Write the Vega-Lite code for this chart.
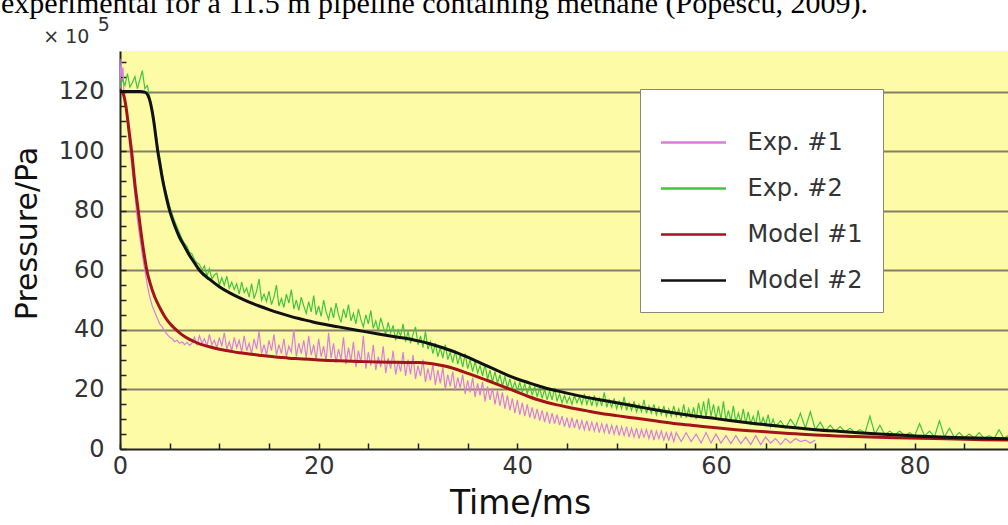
{
  "$schema": "https://vega.github.io/schema/vega-lite/v6.json",
  "width": 888,
  "height": 398,
  "autosize": {"type": "none"},
  "padding": {"left": 120, "top": 51, "right": 0, "bottom": 76},
  "background": "white",
  "title": {
    "text": "experimental for a 11.5 m pipeline containing methane (Popescu, 2009).",
    "subtitle": ["\u200b\u00a0\u00a0\u00a0\u00a0\u00a0\u00a0\u00a0\u00a0\u00a0\u00a0\u00a0\u00a0\u00a0\u00a0\u00a0\u00a05", "\u200b\u00a0\u00a0\u00a0\u00a0\u00a0\u00a0\u00a0× 10"],
    "font": "Liberation Serif",
    "fontSize": 30,
    "fontWeight": "normal",
    "color": "#000000",
    "subtitleFont": "DejaVu Sans",
    "subtitleFontSize": 19,
    "subtitleLineHeight": 12,
    "subtitleColor": "#333333",
    "subtitlePadding": -3,
    "anchor": "start",
    "frame": "group",
    "dx": -119,
    "offset": 3
  },
  "config": {
    "view": {"fill": "#FEFBA6", "stroke": null},
    "font": "DejaVu Sans"
  },
  "datasets": {
    "all": [
      {"s":"Exp. #1","t":0,"p":122},{"s":"Exp. #1","t":0.1,"p":131},{"s":"Exp. #1","t":0.2,"p":125},{"s":"Exp. #1","t":0.3,"p":128},{"s":"Exp. #1","t":0.4,"p":119},{"s":"Exp. #1","t":0.5,"p":117},
      {"s":"Exp. #1","t":0.75,"p":110},{"s":"Exp. #1","t":1,"p":101},{"s":"Exp. #1","t":1.25,"p":93},{"s":"Exp. #1","t":1.5,"p":85},{"s":"Exp. #1","t":1.75,"p":77},{"s":"Exp. #1","t":2,"p":71},
      {"s":"Exp. #1","t":2.25,"p":65},{"s":"Exp. #1","t":2.5,"p":60},{"s":"Exp. #1","t":2.75,"p":55},{"s":"Exp. #1","t":3,"p":51},{"s":"Exp. #1","t":3.25,"p":48},{"s":"Exp. #1","t":3.5,"p":46},
      {"s":"Exp. #1","t":3.75,"p":44},{"s":"Exp. #1","t":4,"p":42},{"s":"Exp. #1","t":4.25,"p":41},{"s":"Exp. #1","t":4.5,"p":39.5},{"s":"Exp. #1","t":4.75,"p":38.5},{"s":"Exp. #1","t":5,"p":37.5},
      {"s":"Exp. #1","t":5.25,"p":37},{"s":"Exp. #1","t":5.5,"p":36},{"s":"Exp. #1","t":5.75,"p":36.5},{"s":"Exp. #1","t":6,"p":35.5},{"s":"Exp. #1","t":6.25,"p":36},{"s":"Exp. #1","t":6.5,"p":35},
      {"s":"Exp. #1","t":6.75,"p":35.8},{"s":"Exp. #1","t":7,"p":34.8},{"s":"Exp. #1","t":7.25,"p":35.5},{"s":"Exp. #1","t":7.5,"p":37.5},{"s":"Exp. #1","t":7.75,"p":35},{"s":"Exp. #1","t":8,"p":38},
      {"s":"Exp. #1","t":8.25,"p":35.5},{"s":"Exp. #1","t":8.5,"p":37},{"s":"Exp. #1","t":8.75,"p":34.5},{"s":"Exp. #1","t":9,"p":38.5},{"s":"Exp. #1","t":9.25,"p":35},{"s":"Exp. #1","t":9.5,"p":36.5},
      {"s":"Exp. #1","t":9.75,"p":34},{"s":"Exp. #1","t":10,"p":37.5},{"s":"Exp. #1","t":10.25,"p":34.5},{"s":"Exp. #1","t":10.5,"p":39},{"s":"Exp. #1","t":10.75,"p":33.5},{"s":"Exp. #1","t":11,"p":36},
      {"s":"Exp. #1","t":11.25,"p":33},{"s":"Exp. #1","t":11.5,"p":37.5},{"s":"Exp. #1","t":11.75,"p":34},{"s":"Exp. #1","t":12,"p":36.5},{"s":"Exp. #1","t":12.25,"p":32.5},{"s":"Exp. #1","t":12.5,"p":38},
      {"s":"Exp. #1","t":12.75,"p":33},{"s":"Exp. #1","t":13,"p":35.5},{"s":"Exp. #1","t":13.25,"p":32},{"s":"Exp. #1","t":13.5,"p":37},{"s":"Exp. #1","t":13.75,"p":33.5},{"s":"Exp. #1","t":14,"p":39.5},
      {"s":"Exp. #1","t":14.25,"p":32},{"s":"Exp. #1","t":14.5,"p":35},{"s":"Exp. #1","t":14.75,"p":31.5},{"s":"Exp. #1","t":15,"p":36.5},{"s":"Exp. #1","t":15.25,"p":33},{"s":"Exp. #1","t":15.5,"p":38.5},
      {"s":"Exp. #1","t":15.75,"p":31.5},{"s":"Exp. #1","t":16,"p":35},{"s":"Exp. #1","t":16.25,"p":32},{"s":"Exp. #1","t":16.5,"p":37},{"s":"Exp. #1","t":16.75,"p":31},{"s":"Exp. #1","t":17,"p":34.5},
      {"s":"Exp. #1","t":17.25,"p":32.5},{"s":"Exp. #1","t":17.5,"p":40},{"s":"Exp. #1","t":17.75,"p":31},{"s":"Exp. #1","t":18,"p":35.5},{"s":"Exp. #1","t":18.25,"p":32},{"s":"Exp. #1","t":18.5,"p":36.5},
      {"s":"Exp. #1","t":18.75,"p":30.5},{"s":"Exp. #1","t":19,"p":38},{"s":"Exp. #1","t":19.25,"p":31.5},{"s":"Exp. #1","t":19.5,"p":35},{"s":"Exp. #1","t":19.75,"p":30},{"s":"Exp. #1","t":20,"p":37},
      {"s":"Exp. #1","t":20.25,"p":31},{"s":"Exp. #1","t":20.5,"p":34.5},{"s":"Exp. #1","t":20.75,"p":29.5},{"s":"Exp. #1","t":21,"p":39},{"s":"Exp. #1","t":21.25,"p":30.5},{"s":"Exp. #1","t":21.5,"p":35.5},
      {"s":"Exp. #1","t":21.75,"p":29},{"s":"Exp. #1","t":22,"p":33.5},{"s":"Exp. #1","t":22.25,"p":30},{"s":"Exp. #1","t":22.5,"p":37.5},{"s":"Exp. #1","t":22.75,"p":28.5},{"s":"Exp. #1","t":23,"p":34},
      {"s":"Exp. #1","t":23.25,"p":29.5},{"s":"Exp. #1","t":23.5,"p":36},{"s":"Exp. #1","t":23.75,"p":27.5},{"s":"Exp. #1","t":24,"p":33},{"s":"Exp. #1","t":24.25,"p":29},{"s":"Exp. #1","t":24.5,"p":38},
      {"s":"Exp. #1","t":24.75,"p":27},{"s":"Exp. #1","t":25,"p":32.5},{"s":"Exp. #1","t":25.25,"p":28},{"s":"Exp. #1","t":25.5,"p":35},{"s":"Exp. #1","t":25.75,"p":26.5},{"s":"Exp. #1","t":26,"p":31},
      {"s":"Exp. #1","t":26.25,"p":27.5},{"s":"Exp. #1","t":26.5,"p":34.5},{"s":"Exp. #1","t":26.75,"p":25.5},{"s":"Exp. #1","t":27,"p":30.5},{"s":"Exp. #1","t":27.25,"p":27},{"s":"Exp. #1","t":27.5,"p":33},
      {"s":"Exp. #1","t":27.75,"p":25},{"s":"Exp. #1","t":28,"p":29.5},{"s":"Exp. #1","t":28.25,"p":26},{"s":"Exp. #1","t":28.5,"p":32.5},{"s":"Exp. #1","t":28.75,"p":24.5},{"s":"Exp. #1","t":29,"p":30},
      {"s":"Exp. #1","t":29.25,"p":25},{"s":"Exp. #1","t":29.5,"p":31.5},{"s":"Exp. #1","t":29.75,"p":23.5},{"s":"Exp. #1","t":30,"p":28},{"s":"Exp. #1","t":30.25,"p":24.5},{"s":"Exp. #1","t":30.5,"p":30},
      {"s":"Exp. #1","t":30.75,"p":22.5},{"s":"Exp. #1","t":31,"p":27},{"s":"Exp. #1","t":31.25,"p":23},{"s":"Exp. #1","t":31.5,"p":28.5},{"s":"Exp. #1","t":31.75,"p":21.5},{"s":"Exp. #1","t":32,"p":26.5},
      {"s":"Exp. #1","t":32.25,"p":22},{"s":"Exp. #1","t":32.5,"p":27.5},{"s":"Exp. #1","t":32.75,"p":20},{"s":"Exp. #1","t":33,"p":25},{"s":"Exp. #1","t":33.25,"p":21},{"s":"Exp. #1","t":33.5,"p":26},
      {"s":"Exp. #1","t":33.75,"p":19.5},{"s":"Exp. #1","t":34,"p":24},{"s":"Exp. #1","t":34.25,"p":20.5},{"s":"Exp. #1","t":34.5,"p":25},{"s":"Exp. #1","t":34.75,"p":18.5},{"s":"Exp. #1","t":35,"p":23},
      {"s":"Exp. #1","t":35.25,"p":19},{"s":"Exp. #1","t":35.5,"p":24},{"s":"Exp. #1","t":35.75,"p":17.5},{"s":"Exp. #1","t":36,"p":22},{"s":"Exp. #1","t":36.25,"p":18},{"s":"Exp. #1","t":36.5,"p":22.5},
      {"s":"Exp. #1","t":36.75,"p":16},{"s":"Exp. #1","t":37,"p":21},{"s":"Exp. #1","t":37.25,"p":16.5},{"s":"Exp. #1","t":37.5,"p":20.5},{"s":"Exp. #1","t":37.75,"p":15},{"s":"Exp. #1","t":38,"p":19.5},
      {"s":"Exp. #1","t":38.25,"p":14.5},{"s":"Exp. #1","t":38.5,"p":19},{"s":"Exp. #1","t":38.75,"p":13.5},{"s":"Exp. #1","t":39,"p":18},{"s":"Exp. #1","t":39.25,"p":13},{"s":"Exp. #1","t":39.5,"p":17},
      {"s":"Exp. #1","t":39.75,"p":12},{"s":"Exp. #1","t":40,"p":16.5},{"s":"Exp. #1","t":40.25,"p":11.5},{"s":"Exp. #1","t":40.5,"p":15.5},{"s":"Exp. #1","t":40.75,"p":11},{"s":"Exp. #1","t":41,"p":15},
      {"s":"Exp. #1","t":41.25,"p":10.5},{"s":"Exp. #1","t":41.5,"p":14},{"s":"Exp. #1","t":41.75,"p":10},{"s":"Exp. #1","t":42,"p":13.5},{"s":"Exp. #1","t":42.25,"p":9.5},{"s":"Exp. #1","t":42.5,"p":13},
      {"s":"Exp. #1","t":42.75,"p":9},{"s":"Exp. #1","t":43,"p":12.5},{"s":"Exp. #1","t":43.25,"p":8.5},{"s":"Exp. #1","t":43.5,"p":12},{"s":"Exp. #1","t":43.75,"p":8.5},{"s":"Exp. #1","t":44,"p":11.5},
      {"s":"Exp. #1","t":44.25,"p":8},{"s":"Exp. #1","t":44.5,"p":11},{"s":"Exp. #1","t":44.75,"p":7.5},{"s":"Exp. #1","t":45,"p":10.5},{"s":"Exp. #1","t":45.25,"p":7},{"s":"Exp. #1","t":45.5,"p":10.5},
      {"s":"Exp. #1","t":45.75,"p":7},{"s":"Exp. #1","t":46,"p":10},{"s":"Exp. #1","t":46.25,"p":6.5},{"s":"Exp. #1","t":46.5,"p":9.5},{"s":"Exp. #1","t":46.75,"p":6.5},{"s":"Exp. #1","t":47,"p":9.5},
      {"s":"Exp. #1","t":47.25,"p":6},{"s":"Exp. #1","t":47.5,"p":9},{"s":"Exp. #1","t":47.75,"p":6},{"s":"Exp. #1","t":48,"p":9},{"s":"Exp. #1","t":48.25,"p":5.5},{"s":"Exp. #1","t":48.5,"p":8.5},
      {"s":"Exp. #1","t":48.75,"p":5.5},{"s":"Exp. #1","t":49,"p":8.5},{"s":"Exp. #1","t":49.25,"p":5},{"s":"Exp. #1","t":49.5,"p":8},{"s":"Exp. #1","t":49.75,"p":5},{"s":"Exp. #1","t":50,"p":8},
      {"s":"Exp. #1","t":50.25,"p":4.5},{"s":"Exp. #1","t":50.5,"p":7.5},{"s":"Exp. #1","t":50.75,"p":4.5},{"s":"Exp. #1","t":51,"p":7.5},{"s":"Exp. #1","t":51.25,"p":4},{"s":"Exp. #1","t":51.5,"p":7},
      {"s":"Exp. #1","t":51.75,"p":4},{"s":"Exp. #1","t":52,"p":7},{"s":"Exp. #1","t":52.25,"p":3.5},{"s":"Exp. #1","t":52.5,"p":6.5},{"s":"Exp. #1","t":52.75,"p":4},{"s":"Exp. #1","t":53,"p":6.5},
      {"s":"Exp. #1","t":53.25,"p":3.5},{"s":"Exp. #1","t":53.5,"p":6.5},{"s":"Exp. #1","t":53.75,"p":3},{"s":"Exp. #1","t":54,"p":6},{"s":"Exp. #1","t":54.25,"p":3.5},{"s":"Exp. #1","t":54.5,"p":6},
      {"s":"Exp. #1","t":54.75,"p":3},{"s":"Exp. #1","t":55,"p":5.5},{"s":"Exp. #1","t":55.25,"p":3},{"s":"Exp. #1","t":55.5,"p":5.5},{"s":"Exp. #1","t":55.75,"p":2.5},{"s":"Exp. #1","t":56,"p":5.5},
      {"s":"Exp. #1","t":56.5,"p":2.5},{"s":"Exp. #1","t":57,"p":5.5},{"s":"Exp. #1","t":57.5,"p":2.5},{"s":"Exp. #1","t":58,"p":5},{"s":"Exp. #1","t":58.5,"p":2},{"s":"Exp. #1","t":59,"p":5.5},
      {"s":"Exp. #1","t":59.5,"p":2},{"s":"Exp. #1","t":60,"p":5},{"s":"Exp. #1","t":60.5,"p":2},{"s":"Exp. #1","t":61,"p":4.5},{"s":"Exp. #1","t":61.5,"p":1.8},{"s":"Exp. #1","t":62,"p":4.5},
      {"s":"Exp. #1","t":62.5,"p":1.8},{"s":"Exp. #1","t":63,"p":4},{"s":"Exp. #1","t":63.5,"p":1.5},{"s":"Exp. #1","t":64,"p":4.5},{"s":"Exp. #1","t":64.5,"p":1.5},{"s":"Exp. #1","t":65,"p":4},
      {"s":"Exp. #1","t":65.5,"p":2},{"s":"Exp. #1","t":66,"p":3.5},{"s":"Exp. #1","t":66.5,"p":1.5},{"s":"Exp. #1","t":67,"p":3.5},{"s":"Exp. #1","t":67.5,"p":2},{"s":"Exp. #1","t":68,"p":3.5},
      {"s":"Exp. #1","t":68.5,"p":2.5},{"s":"Exp. #1","t":69,"p":3},{"s":"Exp. #1","t":69.5,"p":2},{"s":"Exp. #1","t":70,"p":3},
      {"s":"Exp. #2","t":0,"p":121},{"s":"Exp. #2","t":0.25,"p":124},{"s":"Exp. #2","t":0.5,"p":122},{"s":"Exp. #2","t":0.75,"p":126},{"s":"Exp. #2","t":1,"p":121.5},{"s":"Exp. #2","t":1.25,"p":123},
      {"s":"Exp. #2","t":1.5,"p":125},{"s":"Exp. #2","t":1.75,"p":121},{"s":"Exp. #2","t":2,"p":124},{"s":"Exp. #2","t":2.25,"p":127},{"s":"Exp. #2","t":2.5,"p":121},{"s":"Exp. #2","t":2.75,"p":122},
      {"s":"Exp. #2","t":3,"p":118},{"s":"Exp. #2","t":3.25,"p":114},{"s":"Exp. #2","t":3.5,"p":109},{"s":"Exp. #2","t":3.75,"p":103},{"s":"Exp. #2","t":4,"p":98},{"s":"Exp. #2","t":4.25,"p":93},
      {"s":"Exp. #2","t":4.5,"p":88},{"s":"Exp. #2","t":4.75,"p":85},{"s":"Exp. #2","t":5,"p":81.5},{"s":"Exp. #2","t":5.25,"p":79},{"s":"Exp. #2","t":5.5,"p":76.5},{"s":"Exp. #2","t":5.75,"p":74.5},
      {"s":"Exp. #2","t":6,"p":72.5},{"s":"Exp. #2","t":6.25,"p":70.5},{"s":"Exp. #2","t":6.5,"p":69},{"s":"Exp. #2","t":6.75,"p":68},{"s":"Exp. #2","t":7,"p":66},{"s":"Exp. #2","t":7.25,"p":65.5},
      {"s":"Exp. #2","t":7.5,"p":63.5},{"s":"Exp. #2","t":7.75,"p":62.5},{"s":"Exp. #2","t":8,"p":62},{"s":"Exp. #2","t":8.25,"p":60},{"s":"Exp. #2","t":8.5,"p":61.5},{"s":"Exp. #2","t":8.75,"p":58},
      {"s":"Exp. #2","t":9,"p":60.5},{"s":"Exp. #2","t":9.25,"p":57},{"s":"Exp. #2","t":9.5,"p":58.5},{"s":"Exp. #2","t":9.75,"p":59},{"s":"Exp. #2","t":10,"p":55},{"s":"Exp. #2","t":10.25,"p":57.5},
      {"s":"Exp. #2","t":10.5,"p":55},{"s":"Exp. #2","t":10.75,"p":58},{"s":"Exp. #2","t":11,"p":54},{"s":"Exp. #2","t":11.25,"p":56},{"s":"Exp. #2","t":11.5,"p":53.5},{"s":"Exp. #2","t":11.75,"p":55.5},
      {"s":"Exp. #2","t":12,"p":52},{"s":"Exp. #2","t":12.25,"p":56},{"s":"Exp. #2","t":12.5,"p":52.5},{"s":"Exp. #2","t":12.75,"p":54},{"s":"Exp. #2","t":13,"p":51},{"s":"Exp. #2","t":13.25,"p":55.5},
      {"s":"Exp. #2","t":13.5,"p":50.5},{"s":"Exp. #2","t":13.75,"p":53},{"s":"Exp. #2","t":14,"p":57},{"s":"Exp. #2","t":14.25,"p":50},{"s":"Exp. #2","t":14.5,"p":52},{"s":"Exp. #2","t":14.75,"p":49.5},
      {"s":"Exp. #2","t":15,"p":53},{"s":"Exp. #2","t":15.25,"p":48.5},{"s":"Exp. #2","t":15.5,"p":51},{"s":"Exp. #2","t":15.75,"p":55},{"s":"Exp. #2","t":16,"p":48},{"s":"Exp. #2","t":16.25,"p":50.5},
      {"s":"Exp. #2","t":16.5,"p":47.5},{"s":"Exp. #2","t":16.75,"p":52},{"s":"Exp. #2","t":17,"p":49},{"s":"Exp. #2","t":17.25,"p":53.5},{"s":"Exp. #2","t":17.5,"p":47},{"s":"Exp. #2","t":17.75,"p":50},
      {"s":"Exp. #2","t":18,"p":46.5},{"s":"Exp. #2","t":18.25,"p":51},{"s":"Exp. #2","t":18.5,"p":48},{"s":"Exp. #2","t":18.75,"p":45.5},{"s":"Exp. #2","t":19,"p":49.5},{"s":"Exp. #2","t":19.25,"p":46},
      {"s":"Exp. #2","t":19.5,"p":51.5},{"s":"Exp. #2","t":19.75,"p":45},{"s":"Exp. #2","t":20,"p":48},{"s":"Exp. #2","t":20.25,"p":44.5},{"s":"Exp. #2","t":20.5,"p":50},{"s":"Exp. #2","t":20.75,"p":46},
      {"s":"Exp. #2","t":21,"p":43.5},{"s":"Exp. #2","t":21.25,"p":47.5},{"s":"Exp. #2","t":21.5,"p":44},{"s":"Exp. #2","t":21.75,"p":49},{"s":"Exp. #2","t":22,"p":45},{"s":"Exp. #2","t":22.25,"p":42.5},
      {"s":"Exp. #2","t":22.5,"p":47},{"s":"Exp. #2","t":22.75,"p":44},{"s":"Exp. #2","t":23,"p":48.5},{"s":"Exp. #2","t":23.25,"p":43},{"s":"Exp. #2","t":23.5,"p":45.5},{"s":"Exp. #2","t":23.75,"p":42},
      {"s":"Exp. #2","t":24,"p":47},{"s":"Exp. #2","t":24.25,"p":43.5},{"s":"Exp. #2","t":24.5,"p":41},{"s":"Exp. #2","t":24.75,"p":45},{"s":"Exp. #2","t":25,"p":42},{"s":"Exp. #2","t":25.25,"p":46.5},
      {"s":"Exp. #2","t":25.5,"p":40.5},{"s":"Exp. #2","t":25.75,"p":43},{"s":"Exp. #2","t":26,"p":39.5},{"s":"Exp. #2","t":26.25,"p":44},{"s":"Exp. #2","t":26.5,"p":41},{"s":"Exp. #2","t":26.75,"p":38.5},
      {"s":"Exp. #2","t":27,"p":42.5},{"s":"Exp. #2","t":27.25,"p":39},{"s":"Exp. #2","t":27.5,"p":41.5},{"s":"Exp. #2","t":27.75,"p":36.5},{"s":"Exp. #2","t":28,"p":40},{"s":"Exp. #2","t":28.25,"p":38},
      {"s":"Exp. #2","t":28.5,"p":42},{"s":"Exp. #2","t":28.75,"p":36},{"s":"Exp. #2","t":29,"p":39.5},{"s":"Exp. #2","t":29.25,"p":35.5},{"s":"Exp. #2","t":29.5,"p":38.5},{"s":"Exp. #2","t":29.75,"p":41},
      {"s":"Exp. #2","t":30,"p":35},{"s":"Exp. #2","t":30.25,"p":38},{"s":"Exp. #2","t":30.5,"p":34},{"s":"Exp. #2","t":30.75,"p":39.5},{"s":"Exp. #2","t":31,"p":33.5},{"s":"Exp. #2","t":31.25,"p":36},
      {"s":"Exp. #2","t":31.5,"p":32},{"s":"Exp. #2","t":31.75,"p":35.5},{"s":"Exp. #2","t":32,"p":31},{"s":"Exp. #2","t":32.25,"p":34},{"s":"Exp. #2","t":32.5,"p":30.5},{"s":"Exp. #2","t":32.75,"p":35},
      {"s":"Exp. #2","t":33,"p":30},{"s":"Exp. #2","t":33.25,"p":32.5},{"s":"Exp. #2","t":33.5,"p":29},{"s":"Exp. #2","t":33.75,"p":33},{"s":"Exp. #2","t":34,"p":28.5},{"s":"Exp. #2","t":34.25,"p":31.5},
      {"s":"Exp. #2","t":34.5,"p":27.5},{"s":"Exp. #2","t":34.75,"p":32},{"s":"Exp. #2","t":35,"p":27},{"s":"Exp. #2","t":35.25,"p":30},{"s":"Exp. #2","t":35.5,"p":26},{"s":"Exp. #2","t":35.75,"p":29.5},
      {"s":"Exp. #2","t":36,"p":25.5},{"s":"Exp. #2","t":36.25,"p":28},{"s":"Exp. #2","t":36.5,"p":24.5},{"s":"Exp. #2","t":36.75,"p":28.5},{"s":"Exp. #2","t":37,"p":23.5},{"s":"Exp. #2","t":37.25,"p":26.5},
      {"s":"Exp. #2","t":37.5,"p":22.5},{"s":"Exp. #2","t":37.75,"p":26},{"s":"Exp. #2","t":38,"p":22},{"s":"Exp. #2","t":38.25,"p":25},{"s":"Exp. #2","t":38.5,"p":21},{"s":"Exp. #2","t":38.75,"p":24.5},
      {"s":"Exp. #2","t":39,"p":20.5},{"s":"Exp. #2","t":39.25,"p":23.5},{"s":"Exp. #2","t":39.5,"p":20},{"s":"Exp. #2","t":39.75,"p":22.5},{"s":"Exp. #2","t":40,"p":19.5},{"s":"Exp. #2","t":40.25,"p":22.5},
      {"s":"Exp. #2","t":40.5,"p":19},{"s":"Exp. #2","t":40.75,"p":22},{"s":"Exp. #2","t":41,"p":18.5},{"s":"Exp. #2","t":41.25,"p":21.5},{"s":"Exp. #2","t":41.5,"p":18},{"s":"Exp. #2","t":41.75,"p":21},
      {"s":"Exp. #2","t":42,"p":17.5},{"s":"Exp. #2","t":42.25,"p":20.5},{"s":"Exp. #2","t":42.5,"p":17},{"s":"Exp. #2","t":42.75,"p":20},{"s":"Exp. #2","t":43,"p":16.5},{"s":"Exp. #2","t":43.25,"p":19.5},
      {"s":"Exp. #2","t":43.5,"p":16.5},{"s":"Exp. #2","t":43.75,"p":20.5},{"s":"Exp. #2","t":44,"p":16},{"s":"Exp. #2","t":44.25,"p":18.5},{"s":"Exp. #2","t":44.5,"p":15.5},{"s":"Exp. #2","t":44.75,"p":18},
      {"s":"Exp. #2","t":45,"p":15.5},{"s":"Exp. #2","t":45.25,"p":17.5},{"s":"Exp. #2","t":45.5,"p":15},{"s":"Exp. #2","t":45.75,"p":18},{"s":"Exp. #2","t":46,"p":15.5},{"s":"Exp. #2","t":46.25,"p":17.5},
      {"s":"Exp. #2","t":46.5,"p":15},{"s":"Exp. #2","t":46.75,"p":18.5},{"s":"Exp. #2","t":47,"p":15},{"s":"Exp. #2","t":47.25,"p":17.5},{"s":"Exp. #2","t":47.5,"p":14.5},{"s":"Exp. #2","t":47.75,"p":18},
      {"s":"Exp. #2","t":48,"p":14.5},{"s":"Exp. #2","t":48.25,"p":17},{"s":"Exp. #2","t":48.5,"p":14.5},{"s":"Exp. #2","t":48.75,"p":19},{"s":"Exp. #2","t":49,"p":14},{"s":"Exp. #2","t":49.25,"p":16.5},
      {"s":"Exp. #2","t":49.5,"p":14},{"s":"Exp. #2","t":49.75,"p":17},{"s":"Exp. #2","t":50,"p":13.5},{"s":"Exp. #2","t":50.25,"p":16},{"s":"Exp. #2","t":50.5,"p":13.5},{"s":"Exp. #2","t":50.75,"p":17.5},
      {"s":"Exp. #2","t":51,"p":13},{"s":"Exp. #2","t":51.25,"p":15.5},{"s":"Exp. #2","t":51.5,"p":13},{"s":"Exp. #2","t":51.75,"p":16},{"s":"Exp. #2","t":52,"p":12.5},{"s":"Exp. #2","t":52.25,"p":15},
      {"s":"Exp. #2","t":52.5,"p":12.5},{"s":"Exp. #2","t":52.75,"p":16.5},{"s":"Exp. #2","t":53,"p":12},{"s":"Exp. #2","t":53.25,"p":14.5},{"s":"Exp. #2","t":53.5,"p":12},{"s":"Exp. #2","t":53.75,"p":15},
      {"s":"Exp. #2","t":54,"p":11.5},{"s":"Exp. #2","t":54.25,"p":14},{"s":"Exp. #2","t":54.5,"p":11.5},{"s":"Exp. #2","t":54.75,"p":14.5},{"s":"Exp. #2","t":55,"p":11},{"s":"Exp. #2","t":55.25,"p":13.5},
      {"s":"Exp. #2","t":55.5,"p":11},{"s":"Exp. #2","t":55.75,"p":14.5},{"s":"Exp. #2","t":56,"p":11},{"s":"Exp. #2","t":56.25,"p":13.5},{"s":"Exp. #2","t":56.5,"p":10.5},{"s":"Exp. #2","t":56.75,"p":15},
      {"s":"Exp. #2","t":57,"p":10.5},{"s":"Exp. #2","t":57.25,"p":13.5},{"s":"Exp. #2","t":57.5,"p":10.5},{"s":"Exp. #2","t":57.75,"p":14},{"s":"Exp. #2","t":58,"p":10},{"s":"Exp. #2","t":58.25,"p":15.5},
      {"s":"Exp. #2","t":58.5,"p":11},{"s":"Exp. #2","t":58.75,"p":16},{"s":"Exp. #2","t":59,"p":10.5},{"s":"Exp. #2","t":59.25,"p":17},{"s":"Exp. #2","t":59.5,"p":11},{"s":"Exp. #2","t":59.75,"p":15},
      {"s":"Exp. #2","t":60,"p":10},{"s":"Exp. #2","t":60.25,"p":14.5},{"s":"Exp. #2","t":60.5,"p":10},{"s":"Exp. #2","t":60.75,"p":16},{"s":"Exp. #2","t":61,"p":9.5},{"s":"Exp. #2","t":61.25,"p":13},
      {"s":"Exp. #2","t":61.5,"p":9.5},{"s":"Exp. #2","t":61.75,"p":14.5},{"s":"Exp. #2","t":62,"p":9},{"s":"Exp. #2","t":62.25,"p":12},{"s":"Exp. #2","t":62.5,"p":9},{"s":"Exp. #2","t":62.75,"p":13.5},
      {"s":"Exp. #2","t":63,"p":8.5},{"s":"Exp. #2","t":63.25,"p":12.5},{"s":"Exp. #2","t":63.5,"p":8.5},{"s":"Exp. #2","t":63.75,"p":11},{"s":"Exp. #2","t":64,"p":8},{"s":"Exp. #2","t":64.25,"p":13},
      {"s":"Exp. #2","t":64.5,"p":8},{"s":"Exp. #2","t":64.75,"p":10.5},{"s":"Exp. #2","t":65,"p":8},{"s":"Exp. #2","t":65.25,"p":11.5},{"s":"Exp. #2","t":65.5,"p":7.5},{"s":"Exp. #2","t":65.75,"p":10},
      {"s":"Exp. #2","t":66,"p":7.5},{"s":"Exp. #2","t":66.5,"p":9.5},{"s":"Exp. #2","t":67,"p":7},{"s":"Exp. #2","t":67.5,"p":10},{"s":"Exp. #2","t":68,"p":7.5},{"s":"Exp. #2","t":68.5,"p":12},
      {"s":"Exp. #2","t":69,"p":7},{"s":"Exp. #2","t":69.5,"p":12.5},{"s":"Exp. #2","t":70,"p":6.5},{"s":"Exp. #2","t":70.5,"p":9},{"s":"Exp. #2","t":71,"p":6},{"s":"Exp. #2","t":71.5,"p":8},
      {"s":"Exp. #2","t":72,"p":6},{"s":"Exp. #2","t":72.5,"p":7.5},{"s":"Exp. #2","t":73,"p":5.8},{"s":"Exp. #2","t":73.5,"p":7},{"s":"Exp. #2","t":74,"p":5.5},{"s":"Exp. #2","t":74.5,"p":6.5},
      {"s":"Exp. #2","t":75,"p":5.3},{"s":"Exp. #2","t":75.5,"p":11},{"s":"Exp. #2","t":76,"p":5},{"s":"Exp. #2","t":76.5,"p":8},{"s":"Exp. #2","t":77,"p":4.8},{"s":"Exp. #2","t":77.5,"p":6},
      {"s":"Exp. #2","t":78,"p":4.7},{"s":"Exp. #2","t":78.5,"p":6},{"s":"Exp. #2","t":79,"p":4.5},{"s":"Exp. #2","t":79.5,"p":5.5},{"s":"Exp. #2","t":80,"p":4.4},{"s":"Exp. #2","t":80.5,"p":8.5},
      {"s":"Exp. #2","t":81,"p":4.3},{"s":"Exp. #2","t":81.5,"p":6},{"s":"Exp. #2","t":82,"p":4.1},{"s":"Exp. #2","t":82.5,"p":9.5},{"s":"Exp. #2","t":83,"p":4},{"s":"Exp. #2","t":83.5,"p":7},
      {"s":"Exp. #2","t":84,"p":3.9},{"s":"Exp. #2","t":84.5,"p":5.5},{"s":"Exp. #2","t":85,"p":3.8},{"s":"Exp. #2","t":85.5,"p":5},{"s":"Exp. #2","t":86,"p":3.7},{"s":"Exp. #2","t":86.5,"p":5.5},
      {"s":"Exp. #2","t":87,"p":3.6},{"s":"Exp. #2","t":87.5,"p":4.5},{"s":"Exp. #2","t":88,"p":3.5},{"s":"Exp. #2","t":88.5,"p":6.5},{"s":"Exp. #2","t":89,"p":3.5},{"s":"Exp. #2","t":89.4,"p":4.5},
      {"s":"Model #1","t":0,"p":120.5},{"s":"Model #1","t":0.3,"p":119.5},{"s":"Model #1","t":0.6,"p":115},{"s":"Model #1","t":0.9,"p":107},{"s":"Model #1","t":1.2,"p":99},{"s":"Model #1","t":1.5,"p":89},
      {"s":"Model #1","t":1.8,"p":81},{"s":"Model #1","t":2.1,"p":73},{"s":"Model #1","t":2.4,"p":66},{"s":"Model #1","t":2.7,"p":60},{"s":"Model #1","t":3,"p":56},{"s":"Model #1","t":3.5,"p":51},
      {"s":"Model #1","t":4,"p":47.5},{"s":"Model #1","t":4.5,"p":44.5},{"s":"Model #1","t":5,"p":42.2},{"s":"Model #1","t":5.5,"p":40.5},{"s":"Model #1","t":6,"p":39},{"s":"Model #1","t":6.5,"p":37.8},
      {"s":"Model #1","t":7,"p":36.8},{"s":"Model #1","t":7.5,"p":36},{"s":"Model #1","t":8,"p":35.3},{"s":"Model #1","t":8.5,"p":34.8},{"s":"Model #1","t":9,"p":34.3},{"s":"Model #1","t":10,"p":33.5},
      {"s":"Model #1","t":11,"p":32.9},{"s":"Model #1","t":12,"p":32.3},{"s":"Model #1","t":13,"p":31.9},{"s":"Model #1","t":14,"p":31.5},{"s":"Model #1","t":15,"p":31.1},{"s":"Model #1","t":16,"p":30.8},
      {"s":"Model #1","t":17,"p":30.5},{"s":"Model #1","t":18,"p":30.3},{"s":"Model #1","t":19,"p":30.1},{"s":"Model #1","t":20,"p":29.9},{"s":"Model #1","t":22,"p":29.6},{"s":"Model #1","t":24,"p":29.4},
      {"s":"Model #1","t":26,"p":29.2},{"s":"Model #1","t":28,"p":29.1},{"s":"Model #1","t":30,"p":29},{"s":"Model #1","t":31,"p":28.8},{"s":"Model #1","t":32,"p":28.3},{"s":"Model #1","t":33,"p":27.6},
      {"s":"Model #1","t":34,"p":26.6},{"s":"Model #1","t":35,"p":25.4},{"s":"Model #1","t":36,"p":24.2},{"s":"Model #1","t":37,"p":23},{"s":"Model #1","t":38,"p":21.7},{"s":"Model #1","t":39,"p":20.4},
      {"s":"Model #1","t":40,"p":19.1},{"s":"Model #1","t":41,"p":17.8},{"s":"Model #1","t":42,"p":16.6},{"s":"Model #1","t":43,"p":15.6},{"s":"Model #1","t":44,"p":14.8},{"s":"Model #1","t":45,"p":14.1},
      {"s":"Model #1","t":46,"p":13.4},{"s":"Model #1","t":47,"p":12.8},{"s":"Model #1","t":48,"p":12.2},{"s":"Model #1","t":50,"p":11.2},{"s":"Model #1","t":52,"p":10.3},{"s":"Model #1","t":54,"p":9.4},
      {"s":"Model #1","t":56,"p":8.5},{"s":"Model #1","t":58,"p":7.8},{"s":"Model #1","t":60,"p":7.1},{"s":"Model #1","t":62,"p":6.5},{"s":"Model #1","t":64,"p":6},{"s":"Model #1","t":66,"p":5.5},
      {"s":"Model #1","t":68,"p":5.1},{"s":"Model #1","t":70,"p":4.7},{"s":"Model #1","t":74,"p":4.2},{"s":"Model #1","t":78,"p":3.8},{"s":"Model #1","t":82,"p":3.5},{"s":"Model #1","t":86,"p":3.2},
      {"s":"Model #1","t":89.4,"p":3},
      {"s":"Model #2","t":0,"p":120},{"s":"Model #2","t":1,"p":120},{"s":"Model #2","t":2,"p":120},{"s":"Model #2","t":2.5,"p":119.8},{"s":"Model #2","t":2.8,"p":118.8},{"s":"Model #2","t":3,"p":117},
      {"s":"Model #2","t":3.2,"p":114},{"s":"Model #2","t":3.4,"p":110},{"s":"Model #2","t":3.6,"p":105},{"s":"Model #2","t":3.8,"p":100},{"s":"Model #2","t":4,"p":96},{"s":"Model #2","t":4.2,"p":92},
      {"s":"Model #2","t":4.5,"p":87},{"s":"Model #2","t":5,"p":80},{"s":"Model #2","t":5.5,"p":75},{"s":"Model #2","t":6,"p":71},{"s":"Model #2","t":6.5,"p":68},{"s":"Model #2","t":7,"p":65},
      {"s":"Model #2","t":7.5,"p":62.5},{"s":"Model #2","t":8,"p":60},{"s":"Model #2","t":9,"p":57},{"s":"Model #2","t":10,"p":54.5},{"s":"Model #2","t":11,"p":52.5},{"s":"Model #2","t":12,"p":50.8},
      {"s":"Model #2","t":13,"p":49.3},{"s":"Model #2","t":14,"p":48},{"s":"Model #2","t":15,"p":46.8},{"s":"Model #2","t":16,"p":45.7},{"s":"Model #2","t":17,"p":44.7},{"s":"Model #2","t":18,"p":43.8},
      {"s":"Model #2","t":19,"p":43},{"s":"Model #2","t":20,"p":42.2},{"s":"Model #2","t":22,"p":41},{"s":"Model #2","t":24,"p":39.8},{"s":"Model #2","t":26,"p":38.6},{"s":"Model #2","t":28,"p":37.5},
      {"s":"Model #2","t":29,"p":37},{"s":"Model #2","t":30,"p":36.3},{"s":"Model #2","t":31,"p":35.5},{"s":"Model #2","t":32,"p":34.5},{"s":"Model #2","t":33,"p":33.4},{"s":"Model #2","t":34,"p":32.2},
      {"s":"Model #2","t":35,"p":30.8},{"s":"Model #2","t":36,"p":29.3},{"s":"Model #2","t":37,"p":27.8},{"s":"Model #2","t":38,"p":26.3},{"s":"Model #2","t":39,"p":24.8},{"s":"Model #2","t":40,"p":23.5},
      {"s":"Model #2","t":41,"p":22.4},{"s":"Model #2","t":42,"p":21.3},{"s":"Model #2","t":43,"p":20.3},{"s":"Model #2","t":44,"p":19.5},{"s":"Model #2","t":46,"p":18},{"s":"Model #2","t":48,"p":16.7},
      {"s":"Model #2","t":50,"p":15.5},{"s":"Model #2","t":52,"p":14.3},{"s":"Model #2","t":54,"p":13.1},{"s":"Model #2","t":56,"p":12},{"s":"Model #2","t":58,"p":11},{"s":"Model #2","t":60,"p":10.2},
      {"s":"Model #2","t":62,"p":9.3},{"s":"Model #2","t":64,"p":8.5},{"s":"Model #2","t":66,"p":7.8},{"s":"Model #2","t":68,"p":7.1},{"s":"Model #2","t":70,"p":6.5},{"s":"Model #2","t":73,"p":5.8},
      {"s":"Model #2","t":76,"p":5.1},{"s":"Model #2","t":80,"p":4.4},{"s":"Model #2","t":84,"p":3.9},{"s":"Model #2","t":89.4,"p":3.4}
    ]
  },
  "data": {"name": "all"},
  "encoding": {
    "x": {
      "field": "t", "type": "quantitative",
      "scale": {"domain": [0, 89.4], "nice": false, "zero": false},
      "axis": {
        "title": "Time/ms",
        "values": [0,5,10,15,20,25,30,35,40,45,50,55,60,65,70,75,80,85],
        "labelExpr": "datum.value % 20 === 0 ? datum.label : ''",
        "labelOverlap": false,
        "labelFlush": false,
        "grid": false,
        "domainColor": "#222222",
        "domainWidth": 2,
        "tickColor": "#222222",
        "tickWidth": 1.5,
        "tickSize": -6,
        "labelPadding": 11,
        "labelFont": "DejaVu Sans",
        "labelFontSize": 24,
        "labelColor": "#333333",
        "titleFont": "DejaVu Sans",
        "titleFontSize": 33,
        "titleFontWeight": "normal",
        "titleColor": "#111111",
        "titleBaseline": "top",
        "titleX": 400,
        "titleY": 38
      }
    },
    "y": {
      "field": "p", "type": "quantitative",
      "scale": {"domain": [0, 133.6], "nice": false, "zero": false},
      "axis": {
        "title": "Pressure/Pa",
        "values": [0,5,10,15,20,25,30,35,40,45,50,55,60,65,70,75,80,85,90,95,100,105,110,115,120,125,130],
        "labelExpr": "datum.value % 20 === 0 ? datum.label : ''",
        "labelOverlap": false,
        "labelFlush": false,
        "grid": true,
        "gridColor": "#857f68",
        "gridWidth": 2,
        "gridOpacity": {"condition": {"test": "datum.value % 20 === 0 && datum.value > 0", "value": 1}, "value": 0},
        "domainColor": "#222222",
        "domainWidth": 2,
        "tickColor": "#222222",
        "tickWidth": 1.5,
        "tickSize": -6,
        "labelPadding": 22,
        "labelFont": "DejaVu Sans",
        "labelFontSize": 24,
        "labelColor": "#333333",
        "titleFont": "DejaVu Sans",
        "titleFontSize": 30,
        "titleFontWeight": "normal",
        "titleColor": "#111111",
        "titleAngle": -90,
        "titleBaseline": "top",
        "titleAlign": "center",
        "titleX": -108,
        "titleY": 182
      }
    },
    "color": {
      "field": "s", "type": "nominal",
      "scale": {
        "domain": ["Exp. #1", "Exp. #2", "Model #1", "Model #2"],
        "range": ["#d97ddf", "#3fc63a", "#a3141a", "#111111"]
      },
      "legend": {
        "title": null,
        "orient": "none",
        "legendX": 520,
        "legendY": 38,
        "fillColor": "white",
        "strokeColor": "#8a8878",
        "padding": 19.5,
        "cornerRadius": 0,
        "symbolType": "stroke",
        "symbolSize": 4225,
        "symbolStrokeWidth": 2.5,
        "labelFont": "DejaVu Sans",
        "labelFontSize": 24,
        "labelColor": "#333333",
        "labelOffset": 20,
        "labelLimit": 300,
        "rowPadding": 0
      }
    }
  },
  "layer": [
    {
      "transform": [{"filter": "datum.s === 'Exp. #1' || datum.s === 'Exp. #2'"}],
      "mark": {"type": "line", "strokeWidth": 1.2}
    },
    {
      "transform": [{"filter": "datum.s === 'Model #1' || datum.s === 'Model #2'"}],
      "mark": {"type": "line", "strokeWidth": 3, "interpolate": "monotone"}
    }
  ]
}
